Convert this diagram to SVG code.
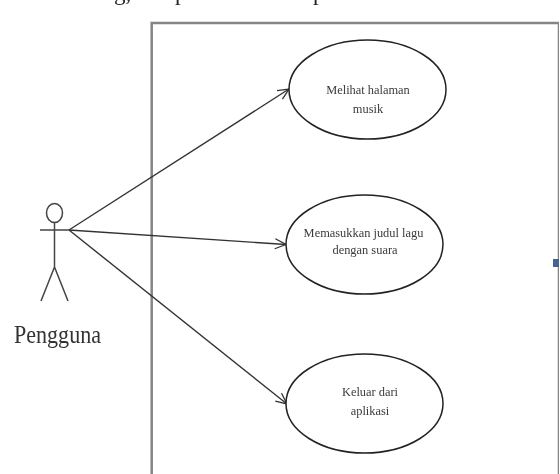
<svg xmlns="http://www.w3.org/2000/svg" width="560" height="474" viewBox="0 0 560 474">
<style>
text{font-family:"Liberation Serif","Times New Roman",serif}
.t{fill:#3a3a3a;text-anchor:middle;font-size:12.400px}
.u{fill:#fff;stroke:#222;stroke-width:1.500}
.c{fill:none;stroke:#333;stroke-width:1.400}
.a{fill:none;stroke:#444;stroke-width:1.500}
.s{fill:#222;font-size:23px}
</style>
<defs>
<marker id="ah" markerWidth="16" markerHeight="14" refX="14" refY="7" orient="auto" markerUnits="userSpaceOnUse"><path d="M3 2L14 7L3 12" fill="none" stroke="#333" stroke-width="1.300"/></marker>
<filter id="soft" x="0" y="0" width="100%" height="100%"><feGaussianBlur stdDeviation="0.4"/></filter>
</defs>
<rect width="560" height="474" fill="#fff"/>
<g filter="url(#soft)">
<g id="header"><text class="s" x="114" y="0">g,</text><text class="s" x="175" y="0">p</text><text class="s" x="313" y="0">p</text></g>
<g id="boundary"><path d="M151.700 474V23H559V474" fill="none" stroke="#858585" stroke-width="2.500"/></g>
<g id="connectors">
<path class="c" d="M69 230L289 89" marker-end="url(#ah)"/>
<path class="c" d="M69 230L286 244.500" marker-end="url(#ah)"/>
<path class="c" d="M69 230L287 404" marker-end="url(#ah)"/>
</g>
<g id="actor"><ellipse class="a" cx="54.500" cy="213" rx="8" ry="9.500"/><path class="a" d="M54.500 222.500V267M40 230H69M54.500 267L41 301M54.500 267L68 301"/><text x="14" y="343" style="font-size:26px;fill:#333" textLength="87" lengthAdjust="spacingAndGlyphs">Pengguna</text></g>
<g id="uc1"><ellipse class="u" cx="367.500" cy="89.500" rx="78.500" ry="49.500"/><text class="t" x="368" y="94">Melihat halaman</text><text class="t" x="368" y="113">musik</text></g>
<g id="uc2"><ellipse class="u" cx="364.500" cy="244.500" rx="78.500" ry="49.500"/><text class="t" x="363.500" y="237">Memasukkan judul lagu</text><text class="t" x="365" y="254">dengan suara</text></g>
<g id="uc3"><ellipse class="u" cx="364.500" cy="403.500" rx="78.500" ry="49.500"/><text class="t" x="370" y="396">Keluar dari</text><text class="t" x="370" y="415">aplikasi</text></g>
<rect id="mark" x="553" y="259" width="6" height="8" fill="#46648f"/>
</g>
</svg>
